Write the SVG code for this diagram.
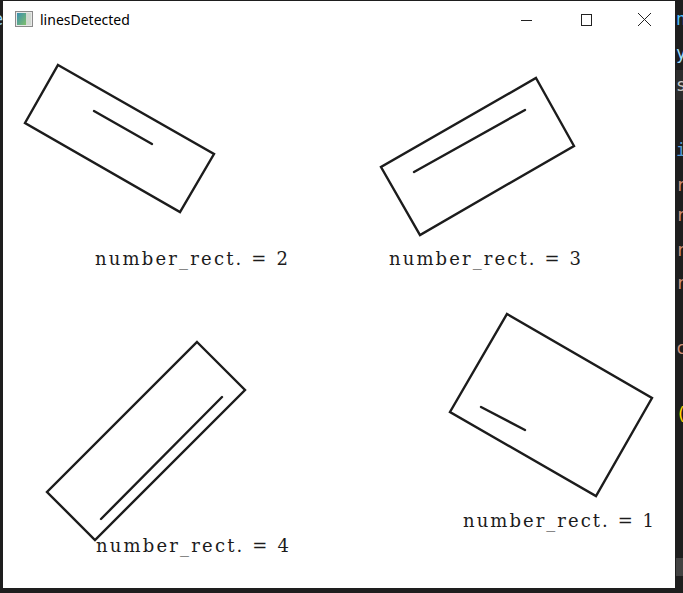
<svg xmlns="http://www.w3.org/2000/svg" width="683" height="593" viewBox="0 0 683 593">
  <defs>
    <style>
      .shape { fill: none; stroke: #1c1c1c; stroke-width: 2.4; stroke-linejoin: miter; stroke-linecap: round; }
      .label { font-family: "DejaVu Serif", "Liberation Serif", serif; font-size: 18px; fill: #1c1c1c; }
      .title { font-family: "Noto Sans", "Open Sans", sans-serif; font-size: 14px; fill: #000; }
      .code { font-family: "DejaVu Sans Mono", "Liberation Mono", monospace; font-size: 17px; }
      .btn { fill: none; stroke: #222; stroke-width: 1; }
    </style>
    <linearGradient id="iconGrad" x1="0" y1="0" x2="1" y2="1">
      <stop offset="0" stop-color="#3a8fb0"/>
      <stop offset="1" stop-color="#7fbf6a"/>
    </linearGradient>
  </defs>

  <!-- background (editor behind the window) -->
  <rect x="0" y="0" width="683" height="593" fill="#1e1e1e"/>
  <rect x="676" y="70" width="7" height="30" fill="#2d2d2d"/>
  <rect x="676" y="558" width="7" height="18" fill="#424242"/>
  <g id="editor-fragments" class="code">
    <text x="-7" y="25" fill="#9cdcfe">e</text>
    <text x="676" y="25" fill="#4fc1ff">n</text>
    <text x="676" y="59" fill="#9cdcfe">y</text>
    <text x="676" y="91" fill="#c8c8c8">s</text>
    <text x="676" y="156" fill="#569cd6">i</text>
    <text x="676" y="191" fill="#ce9178">r</text>
    <text x="676" y="221" fill="#ce9178">r</text>
    <text x="676" y="256" fill="#ce9178">r</text>
    <text x="676" y="289" fill="#ce9178">r</text>
    <text x="676" y="354" fill="#ce9178">c</text>
    <text x="676" y="420" fill="#ffd700">(</text>
  </g>

  <!-- window -->
  <rect x="3" y="1" width="672" height="587" fill="#ffffff"/>

  <g id="titlebar">
    <rect x="15.5" y="11.5" width="17" height="15" fill="#e8e8e8" stroke="#8a8a8a" stroke-width="1"/>
    <rect x="17" y="13" width="9" height="12" fill="url(#iconGrad)"/>
    <rect x="26" y="13" width="5" height="12" fill="#d0d8d0"/>
    <text class="title" x="40" y="25">linesDetected</text>
    <line class="btn" x1="521" y1="20.5" x2="532" y2="20.5"/>
    <rect class="btn" x="581.5" y="14.5" width="10" height="11"/>
    <line class="btn" x1="638" y1="13" x2="651" y2="26"/>
    <line class="btn" x1="651" y1="13" x2="638" y2="26"/>
  </g>

  <g id="rect2">
    <polygon class="shape" points="58,65 214,154 180,212 25,123"/>
    <line class="shape" x1="94" y1="111" x2="152" y2="144"/>
    <text class="label" x="95" y="265" textLength="193" lengthAdjust="spacing">number_rect. = 2</text>
  </g>

  <g id="rect3">
    <polygon class="shape" points="536,78 574,146 420,235 381,167"/>
    <line class="shape" x1="414" y1="172" x2="525" y2="110"/>
    <text class="label" x="389" y="265" textLength="192" lengthAdjust="spacing">number_rect. = 3</text>
  </g>

  <g id="rect4">
    <polygon class="shape" points="197,342 245,390 95,540 47,492"/>
    <line class="shape" x1="222" y1="397" x2="101" y2="519"/>
    <text class="label" x="96" y="552" textLength="193" lengthAdjust="spacing">number_rect. = 4</text>
  </g>

  <g id="rect1">
    <polygon class="shape" points="507,314 652,398 596,496 450,412"/>
    <line class="shape" x1="481" y1="407" x2="525" y2="430"/>
    <text class="label" x="463" y="527" textLength="191" lengthAdjust="spacing">number_rect. = 1</text>
  </g>

  <g id="connectors"></g>
</svg>
